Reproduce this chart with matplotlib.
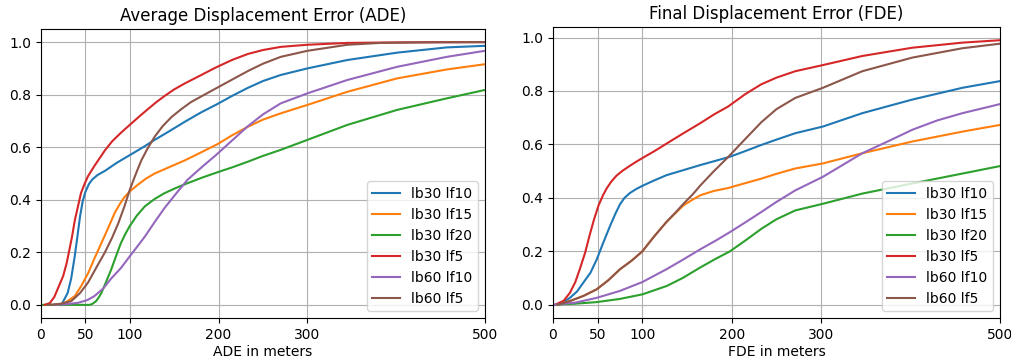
import matplotlib
matplotlib.use('Agg')
import matplotlib.pyplot as plt

labels = ['lb30 lf10', 'lb30 lf15', 'lb30 lf20', 'lb30 lf5', 'lb60 lf10', 'lb60 lf5']
xticks = [0, 50, 100, 200, 300, 500]

# ADE curves (x in meters, y = cumulative fraction)
ade_lb30_lf10_x = [23, 30, 34, 38, 41, 44, 47, 50, 54, 58, 64, 72, 85, 100, 115, 128, 145, 162, 180, 199, 215, 233, 250, 270, 300, 345, 401, 457, 500]
ade_lb30_lf10_y = [0, 0.045, 0.1, 0.185, 0.26, 0.337, 0.395, 0.43, 0.46, 0.478, 0.495, 0.51, 0.54, 0.57, 0.6, 0.628, 0.662, 0.697, 0.732, 0.765, 0.795, 0.826, 0.852, 0.875, 0.9, 0.932, 0.96, 0.98, 0.986]
ade_lb30_lf15_x = [19, 28, 38, 45, 53, 60, 68, 76, 83, 89, 94, 101, 109, 118, 128, 145, 162, 180, 199, 215, 233, 250, 270, 300, 345, 401, 457, 500]
ade_lb30_lf15_y = [0, 0.01, 0.033, 0.07, 0.12, 0.175, 0.235, 0.295, 0.35, 0.385, 0.41, 0.435, 0.457, 0.48, 0.5, 0.525, 0.55, 0.58, 0.612, 0.645, 0.678, 0.705, 0.729, 0.761, 0.811, 0.862, 0.896, 0.916]
ade_lb30_lf20_x = [0, 55, 58, 62, 65, 68, 73, 79, 85, 90, 95, 100, 108, 117, 128, 139, 152, 165, 182, 199, 215, 233, 250, 270, 300, 345, 401, 457, 500]
ade_lb30_lf20_y = [0, 0, 0.004, 0.014, 0.028, 0.045, 0.085, 0.134, 0.19, 0.235, 0.27, 0.3, 0.34, 0.375, 0.403, 0.425, 0.445, 0.463, 0.485, 0.505, 0.523, 0.545, 0.567, 0.59, 0.628, 0.685, 0.742, 0.786, 0.818]
ade_lb30_lf5_x = [4, 10, 15, 20, 25, 29, 32, 35, 38, 42, 45, 49, 53, 60, 66, 72, 80, 90, 100, 110, 120, 130, 140, 150, 162, 180, 196, 215, 233, 250, 270, 300, 345, 400, 450, 500]
ade_lb30_lf5_y = [0, 0.007, 0.03, 0.07, 0.11, 0.16, 0.21, 0.26, 0.32, 0.38, 0.425, 0.46, 0.49, 0.528, 0.558, 0.588, 0.622, 0.655, 0.685, 0.715, 0.744, 0.772, 0.797, 0.82, 0.843, 0.874, 0.902, 0.932, 0.955, 0.97, 0.982, 0.99, 0.997, 0.999, 1.0, 1.0]
ade_lb60_lf10_x = [15, 30, 42, 52, 60, 70, 79, 90, 100, 108, 117, 128, 139, 152, 165, 182, 196, 214, 233, 250, 270, 300, 345, 401, 457, 500]
ade_lb60_lf10_y = [0, 0.003, 0.008, 0.018, 0.033, 0.062, 0.1, 0.14, 0.185, 0.22, 0.26, 0.315, 0.368, 0.423, 0.476, 0.527, 0.567, 0.622, 0.68, 0.725, 0.767, 0.805, 0.856, 0.906, 0.944, 0.967]
ade_lb60_lf5_x = [8, 22, 34, 44, 53, 62, 72, 80, 87, 94, 100, 107, 113, 120, 128, 137, 147, 158, 169, 183, 196, 215, 233, 250, 270, 300, 345, 382, 430, 500]
ade_lb60_lf5_y = [0, 0.004, 0.014, 0.045, 0.085, 0.14, 0.2, 0.255, 0.31, 0.375, 0.438, 0.5, 0.55, 0.595, 0.64, 0.68, 0.715, 0.745, 0.772, 0.798, 0.822, 0.857, 0.89, 0.918, 0.944, 0.967, 0.99, 0.997, 0.999, 1.0]

# FDE curves
fde_lb30_lf10_x = [7, 19, 27, 34, 42, 49, 56, 64, 70, 75, 80, 86, 93, 100, 113, 127, 145, 165, 180, 198, 215, 233, 250, 271, 302, 346, 402, 458, 500]
fde_lb30_lf10_y = [0, 0.026, 0.05, 0.083, 0.12, 0.17, 0.23, 0.296, 0.342, 0.376, 0.4, 0.418, 0.433, 0.445, 0.465, 0.485, 0.503, 0.523, 0.537, 0.554, 0.575, 0.598, 0.618, 0.642, 0.667, 0.717, 0.768, 0.812, 0.837]
fde_lb30_lf15_x = [5, 19, 34, 49, 62, 75, 88, 100, 113, 127, 137, 146, 156, 165, 180, 196, 215, 233, 250, 271, 302, 346, 402, 458, 500]
fde_lb30_lf15_y = [0, 0.014, 0.033, 0.058, 0.092, 0.133, 0.165, 0.2, 0.255, 0.31, 0.343, 0.372, 0.393, 0.41, 0.426, 0.437, 0.455, 0.472, 0.49, 0.51, 0.529, 0.567, 0.611, 0.648, 0.673]
fde_lb30_lf20_x = [0, 25, 49, 75, 100, 127, 145, 165, 182, 198, 215, 233, 250, 271, 302, 346, 402, 458, 500]
fde_lb30_lf20_y = [0, 0.004, 0.01, 0.022, 0.039, 0.07, 0.1, 0.14, 0.172, 0.2, 0.24, 0.284, 0.32, 0.353, 0.378, 0.416, 0.454, 0.491, 0.519]
fde_lb30_lf5_x = [2, 12, 19, 25, 30, 36, 41, 46, 51, 56, 60, 65, 71, 78, 86, 93, 100, 113, 127, 145, 165, 180, 196, 215, 233, 250, 271, 302, 346, 402, 458, 500]
fde_lb30_lf5_y = [0, 0.015, 0.045, 0.085, 0.133, 0.195, 0.26, 0.32, 0.372, 0.41, 0.435, 0.46, 0.483, 0.502, 0.52, 0.535, 0.549, 0.574, 0.603, 0.64, 0.68, 0.712, 0.742, 0.788, 0.825, 0.85, 0.874, 0.897, 0.931, 0.962, 0.981, 0.99]
fde_lb60_lf10_x = [0, 25, 49, 75, 100, 127, 145, 165, 182, 198, 215, 233, 250, 271, 302, 346, 375, 402, 430, 458, 500]
fde_lb60_lf10_y = [0, 0.008, 0.026, 0.052, 0.085, 0.133, 0.168, 0.208, 0.24, 0.272, 0.308, 0.347, 0.385, 0.428, 0.479, 0.567, 0.612, 0.655, 0.69, 0.717, 0.751]
fde_lb60_lf5_x = [5, 19, 34, 49, 62, 75, 88, 100, 113, 127, 137, 146, 156, 165, 180, 196, 215, 233, 250, 271, 302, 346, 402, 458, 500]
fde_lb60_lf5_y = [0, 0.014, 0.033, 0.058, 0.092, 0.133, 0.165, 0.2, 0.255, 0.31, 0.345, 0.378, 0.412, 0.447, 0.5, 0.553, 0.62, 0.683, 0.732, 0.774, 0.812, 0.874, 0.925, 0.96, 0.977]

ade = [(ade_lb30_lf10_x, ade_lb30_lf10_y), (ade_lb30_lf15_x, ade_lb30_lf15_y), (ade_lb30_lf20_x, ade_lb30_lf20_y),
       (ade_lb30_lf5_x, ade_lb30_lf5_y), (ade_lb60_lf10_x, ade_lb60_lf10_y), (ade_lb60_lf5_x, ade_lb60_lf5_y)]
fde = [(fde_lb30_lf10_x, fde_lb30_lf10_y), (fde_lb30_lf15_x, fde_lb30_lf15_y), (fde_lb30_lf20_x, fde_lb30_lf20_y),
       (fde_lb30_lf5_x, fde_lb30_lf5_y), (fde_lb60_lf10_x, fde_lb60_lf10_y), (fde_lb60_lf5_x, fde_lb60_lf5_y)]

fig = plt.figure(figsize=(10.12, 3.59), dpi=100)
ax1 = fig.add_axes([0.0405, 0.1142, 0.4387, 0.8050])
ax2 = fig.add_axes([0.5464, 0.1142, 0.4417, 0.8106])

for ax, data, title, xl in [(ax1, ade, 'Average Displacement Error (ADE)', 'ADE in meters'),
                            (ax2, fde, 'Final Displacement Error (FDE)', 'FDE in meters')]:
    for (xs, ys), lab in zip(data, labels):
        ax.plot(xs, ys, label=lab)
    ax.set_xlim(0, 500)
    ax.set_xticks(xticks)
    ax.set_title(title)
    ax.set_xlabel(xl, labelpad=2)
    ax.grid(True)
    ax.legend(loc='lower right')

fig.savefig('out.png', dpi=100)
